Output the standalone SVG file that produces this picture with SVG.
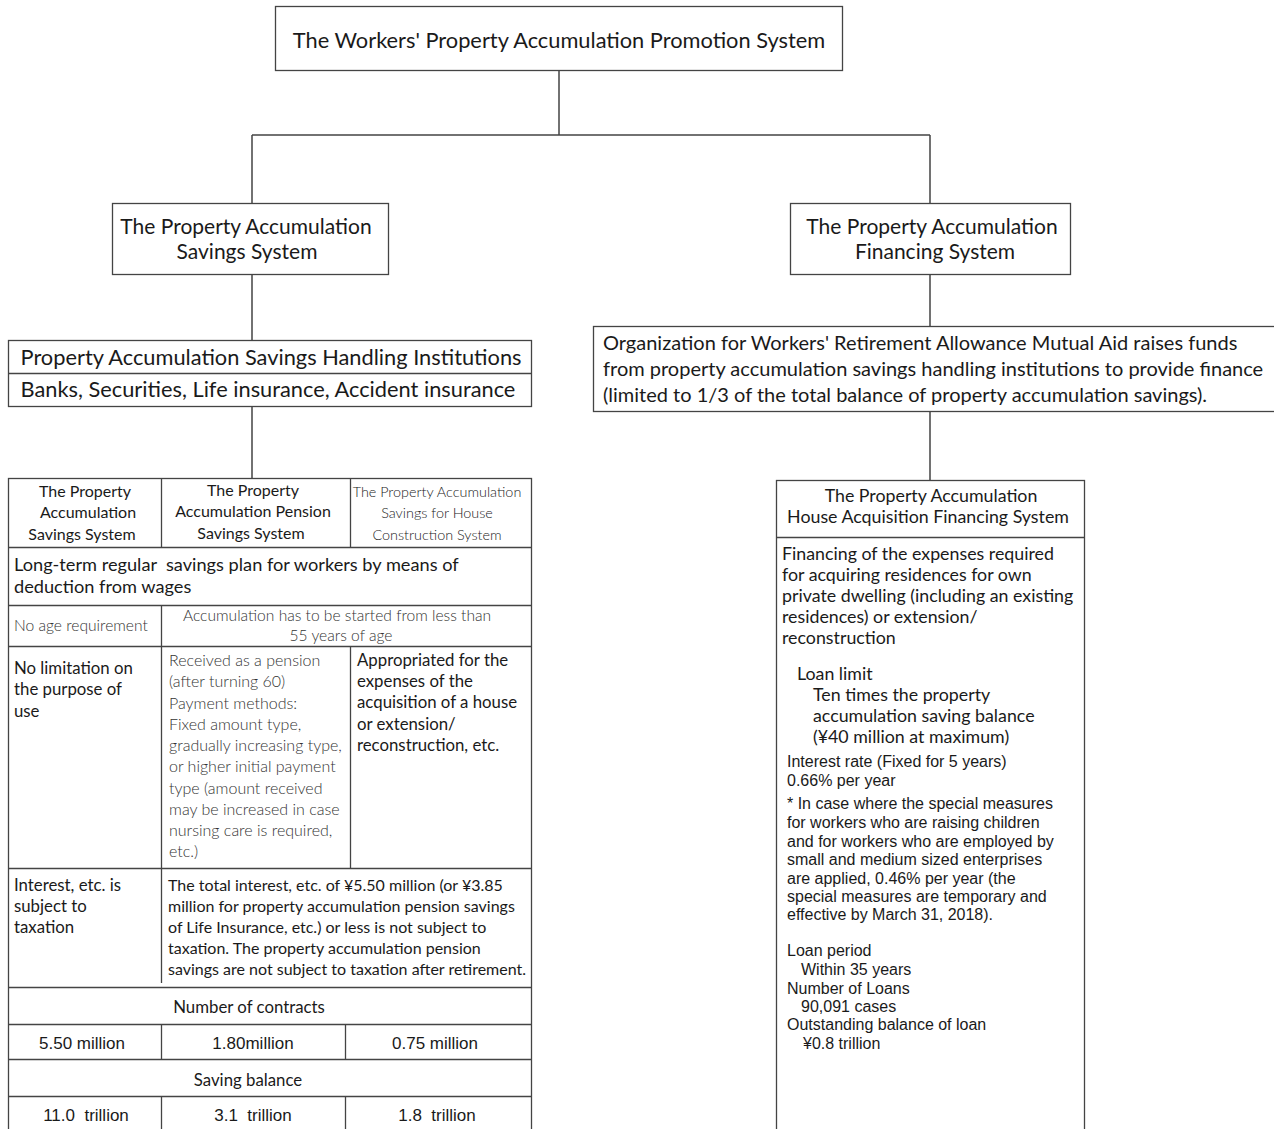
<svg xmlns="http://www.w3.org/2000/svg" width="1274" height="1129" viewBox="0 0 1274 1129">
<style>
rect{fill:#fff;stroke:#444;stroke-width:1.3}
line{stroke:#444;stroke-width:1.3}
.c{stroke:#444;stroke-width:1.5;fill:none}
text{font-family:Lato,"Open Sans",sans-serif;fill:#1a1a1a;white-space:pre}
.m{text-anchor:middle}
.t22{font-size:21.8px}
.t21{font-size:21px}
.t20{font-size:20px}
.t18{font-size:18.2px}
.t178{font-size:17.8px}
.t17{font-size:16.8px}
.t16{font-size:16px}
.t15{font-size:15.6px}
.h3{font-size:14.4px;fill:#222;font-weight:300}
.l{fill:#333;font-weight:300}
.a{font-family:"Liberation Sans",Arial,sans-serif;font-size:16px}
.a17{font-family:"Liberation Sans",Arial,sans-serif;font-size:17px}
</style>
<rect width="1274" height="1129" style="fill:#fff;stroke:none"/>
<g id="connectors">
<path class="c" d="M559 70V135M252 135H930M252 135V203M930 135V203"/>
<path class="c" d="M252 275V340M252 406V478"/>
<path class="c" d="M930 275V326M930 411V480"/>
</g>
<g id="top">
<rect x="275.500" y="6.500" width="567" height="64"/>
<text class="m t22" x="559" y="48">The Workers' Property Accumulation Promotion System</text>
</g>
<g id="savings-system">
<rect x="112.500" y="203.500" width="276" height="71"/>
<text class="m t21" x="246" y="234">The Property Accumulation</text>
<text class="m t21" x="247" y="259">Savings System</text>
</g>
<g id="financing-system">
<rect x="790.500" y="203.500" width="280" height="71"/>
<text class="m t21" x="932" y="234">The Property Accumulation</text>
<text class="m t21" x="935" y="259">Financing System</text>
</g>
<g id="institutions">
<rect x="8.500" y="340.500" width="523" height="66"/>
<line x1="8" y1="373.500" x2="532" y2="373.500"/>
<text class="m t22" x="271" y="365">Property Accumulation Savings Handling Institutions</text>
<text class="m t22" x="268" y="397">Banks, Securities, Life insurance, Accident insurance</text>
</g>
<g id="organization">
<rect x="593.500" y="326.500" width="685" height="85"/>
<text class="t20" x="603" y="350">Organization for Workers' Retirement Allowance Mutual Aid raises funds</text>
<text class="t20" x="603" y="376">from property accumulation savings handling institutions to provide finance</text>
<text class="t20" x="603" y="402">(limited to 1/3 of the total balance of property accumulation savings).</text>
</g>
<g id="savings-table">
<rect x="8.500" y="478.500" width="523" height="660"/>
<line x1="8" y1="547.500" x2="532" y2="547.500"/>
<line x1="8" y1="605.500" x2="532" y2="605.500"/>
<line x1="8" y1="646.500" x2="532" y2="646.500"/>
<line x1="8" y1="868.500" x2="532" y2="868.500"/>
<line x1="8" y1="987.500" x2="532" y2="987.500"/>
<line x1="8" y1="1024.500" x2="532" y2="1024.500"/>
<line x1="8" y1="1059.500" x2="532" y2="1059.500"/>
<line x1="8" y1="1096.500" x2="532" y2="1096.500"/>
<line x1="161.500" y1="478" x2="161.500" y2="547"/>
<line x1="350.500" y1="478" x2="350.500" y2="547"/>
<line x1="161.500" y1="605" x2="161.500" y2="983"/>
<line x1="350.500" y1="646" x2="350.500" y2="868"/>
<line x1="161.500" y1="1024" x2="161.500" y2="1059"/>
<line x1="345.500" y1="1024" x2="345.500" y2="1059"/>
<line x1="161.500" y1="1096" x2="161.500" y2="1129"/>
<line x1="345.500" y1="1096" x2="345.500" y2="1129"/>
<text class="m t16" x="85" y="497">The Property</text>
<text class="m t16" x="88" y="518">Accumulation</text>
<text class="m t16" x="82" y="540">Savings System</text>
<text class="m t16" x="253" y="496">The Property</text>
<text class="m t16" x="253" y="517">Accumulation Pension</text>
<text class="m t16" x="251" y="539">Savings System</text>
<text class="m h3" x="437" y="497">The Property Accumulation</text>
<text class="m h3" x="437" y="518">Savings for House</text>
<text class="m h3" x="437" y="540">Construction System</text>
<text class="t18" x="14" y="571">Long-term regular  savings plan for workers by means of</text>
<text class="t18" x="14" y="593">deduction from wages</text>
<text class="t15 l" x="14" y="631">No age requirement</text>
<text class="m t15 l" x="337" y="621">Accumulation has to be started from less than</text>
<text class="m t15 l" x="341" y="641">55 years of age</text>
<text class="t17" x="14" y="674">No limitation on</text>
<text class="t17" x="14" y="695">the purpose of</text>
<text class="t17" x="14" y="717">use</text>
<text class="t16 l" x="169" y="666">Received as a pension</text>
<text class="t16 l" x="169" y="687">(after turning 60)</text>
<text class="t16 l" x="169" y="709">Payment methods:</text>
<text class="t16 l" x="169" y="730">Fixed amount type,</text>
<text class="t16 l" x="169" y="751">gradually increasing type,</text>
<text class="t16 l" x="169" y="772">or higher initial payment</text>
<text class="t16 l" x="169" y="794">type (amount received</text>
<text class="t16 l" x="169" y="815">may be increased in case</text>
<text class="t16 l" x="169" y="836">nursing care is required,</text>
<text class="t16 l" x="169" y="857">etc.)</text>
<text class="t17" x="357" y="666">Appropriated for the</text>
<text class="t17" x="357" y="687">expenses of the</text>
<text class="t17" x="357" y="708">acquisition of a house</text>
<text class="t17" x="357" y="730">or extension/</text>
<text class="t17" x="357" y="751">reconstruction, etc.</text>
<text class="t17" x="14" y="891">Interest, etc. is</text>
<text class="t17" x="14" y="912">subject to</text>
<text class="t17" x="14" y="933">taxation</text>
<text class="t16" x="168" y="891">The total interest, etc. of ¥5.50 million (or ¥3.85</text>
<text class="t16" x="168" y="912">million for property accumulation pension savings</text>
<text class="t16" x="168" y="933">of Life Insurance, etc.) or less is not subject to</text>
<text class="t16" x="168" y="954">taxation. The property accumulation pension</text>
<text class="t16" x="168" y="975">savings are not subject to taxation after retirement.</text>
<text class="m t17" x="249" y="1013">Number of contracts</text>
<text class="m a17" x="82" y="1049">5.50 million</text>
<text class="m a17" x="253" y="1049">1.80million</text>
<text class="m a17" x="435" y="1049">0.75 million</text>
<text class="m t17" x="248" y="1086">Saving balance</text>
<text class="m a17" x="86" y="1121">11.0  trillion</text>
<text class="m a17" x="253" y="1121">3.1  trillion</text>
<text class="m a17" x="437" y="1121">1.8  trillion</text>
</g>
<g id="house-financing">
<rect x="776.500" y="480.500" width="308" height="660"/>
<line x1="776" y1="537.500" x2="1085" y2="537.500"/>
<text class="m t178" x="931" y="502">The Property Accumulation</text>
<text class="m t178" x="928" y="523">House Acquisition Financing System</text>
<text class="t178" x="782" y="560">Financing of the expenses required</text>
<text class="t178" x="782" y="581">for acquiring residences for own</text>
<text class="t178" x="782" y="602">private dwelling (including an existing</text>
<text class="t178" x="782" y="623">residences) or extension/</text>
<text class="t178" x="782" y="644">reconstruction</text>
<text class="t178" x="797" y="680">Loan limit</text>
<text class="t178" x="813" y="701">Ten times the property</text>
<text class="t178" x="813" y="722">accumulation saving balance</text>
<text class="t178" x="813" y="743">(¥40 million at maximum)</text>
<text class="a" x="787" y="767">Interest rate (Fixed for 5 years)</text>
<text class="a" x="787" y="786">0.66% per year</text>
<text class="a" x="787" y="809">* In case where the special measures</text>
<text class="a" x="787" y="828">for workers who are raising children</text>
<text class="a" x="787" y="847">and for workers who are employed by</text>
<text class="a" x="787" y="865">small and medium sized enterprises</text>
<text class="a" x="787" y="884">are applied, 0.46% per year (the</text>
<text class="a" x="787" y="902">special measures are temporary and</text>
<text class="a" x="787" y="920">effective by March 31, 2018).</text>
<text class="a" x="787" y="956">Loan period</text>
<text class="a" x="801" y="975">Within 35 years</text>
<text class="a" x="787" y="994">Number of Loans</text>
<text class="a" x="801" y="1012">90,091 cases</text>
<text class="a" x="787" y="1030">Outstanding balance of loan</text>
<text class="a" x="803" y="1049">¥0.8 trillion</text>
</g>
</svg>
